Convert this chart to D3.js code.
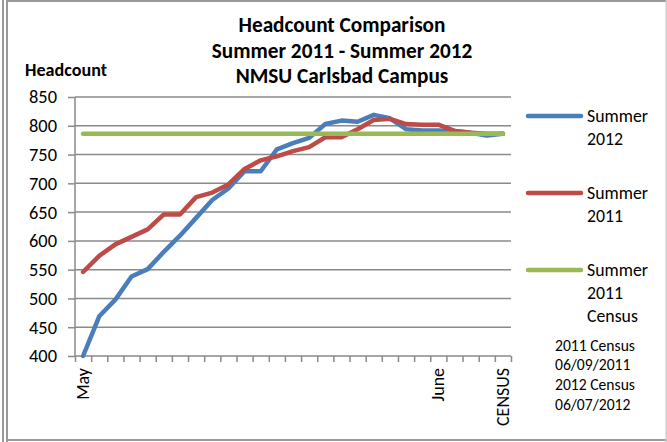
<!DOCTYPE html>
<html>
<head>
<meta charset="utf-8">
<script src="https://cdn.jsdelivr.net/npm/d3@7"></script>
<style>
  html, body { margin: 0; padding: 0; background: #fff; }
  svg { display: block; font-family: Carlito, "Open Sans", Lato, sans-serif; }
</style>
</head>
<body>
<svg id="chart" width="667" height="442"></svg>
<script>
// ---- data ----
const categories = ["May","","","","","","","","","","","","","","","","","","","","","","June","","","","CENSUS"];
const summer2012 = [400,469,498,538,551,581,609,640,671,691,721,721,759,770,779,803,809,807,819,813,794,792,792,791,788,783,786];
const summer2011 = [546,574,594,607,620,646,646,676,684,698,725,740,747,756,763,780,780,794,810,812,803,802,802,791,788,786,786];
const census2011 = [786,786,786,786,786,786,786,786,786,786,786,786,786,786,786,786,786,786,786,786,786,786,786,786,786,786,786];
const yTicks = [400,450,500,550,600,650,700,750,800,850];
const titleLines = ["Headcount Comparison","Summer 2011 - Summer 2012","NMSU Carlsbad Campus"];
const seriesNames = [["Summer","2012"],["Summer","2011"],["Summer","2011","Census"]];
const noteLines = ["2011 Census","06/09/2011","2012 Census","06/07/2012"];

const colors = ["#4A7EBB","#BE4B48","#98B954"];
const svg = d3.select("#chart");

// scale a group's font so a sample string reaches a target width
function fit(sel, sample, target, bold) {
  const t = svg.append("text").attr("font-size", 20).attr("font-weight", bold ? "bold" : null).text(sample);
  const w = t.node().getComputedTextLength();
  t.remove();
  sel.attr("font-size", 20 * target / w);
}

// frame
svg.append("rect").attr("x",2).attr("y",0).attr("width",2).attr("height",442).attr("fill","#999");
svg.append("rect").attr("x",6).attr("y",0).attr("width",2).attr("height",442).attr("fill","#999");
svg.append("rect").attr("x",6).attr("y",0).attr("width",661).attr("height",2).attr("fill","#999");
svg.append("rect").attr("x",6).attr("y",439).attr("width",661).attr("height",2).attr("fill","#999");
svg.append("rect").attr("x",665.5).attr("y",0).attr("width",1.5).attr("height",442).attr("fill","#ccc");

const pL = 75, pR = 511, pT = 97, pB = 356;
const n = categories.length;
const x = d3.scaleBand().domain(d3.range(n)).range([pL, pR]).padding(0);
const xEdge = d3.scaleLinear().domain([0, n]).range([pL, pR]);
const y = d3.scaleLinear().domain([400, 850]).range([pB, pT]);

// gridlines
svg.append("g").selectAll("line").data(yTicks.filter(v => v !== 400)).join("line")
  .attr("x1", pL).attr("x2", pR)
  .attr("y1", d => y(d)).attr("y2", d => y(d))
  .attr("stroke", "#8a8a8a").attr("stroke-width", 1.5);

// y axis
const yAxis = svg.append("g").attr("transform", `translate(${pL},0)`)
  .call(d3.axisLeft(y).tickValues(yTicks).tickSize(7).tickPadding(11).tickFormat(d3.format("d")));
yAxis.attr("font-family", null).attr("font-size", null);
yAxis.select(".domain").attr("stroke", "#8a8a8a").attr("stroke-width", 1.5).attr("d", `M0,${pT}V${pB}`);
yAxis.selectAll(".tick line").attr("stroke", "#8a8a8a").attr("stroke-width", 1.5);
const yLabels = yAxis.selectAll(".tick text").attr("fill", "#000");
fit(yLabels, "850", 28, false);

// x axis
const xAxis = svg.append("g").attr("transform", `translate(0,${pB})`)
  .call(d3.axisBottom(xEdge).tickValues(d3.range(n + 1)).tickSize(6).tickFormat(""));
xAxis.select(".domain").attr("stroke", "#8a8a8a").attr("stroke-width", 1.5).attr("d", `M${pL},0H${pR}`);
xAxis.selectAll(".tick line").attr("stroke", "#8a8a8a").attr("stroke-width", 1.5);

// x labels
const xLabels = svg.append("g").selectAll("text").data(categories.map((c, i) => ({c, i})).filter(d => d.c)).join("text")
  .attr("transform", d => `translate(${x(d.i) + x.bandwidth()/2 + 6},${pB + 12}) rotate(-90)`)
  .attr("text-anchor", "end")
  .text(d => d.c);
fit(xLabels, "CENSUS", 58, false);

// lines
const line = d3.line().x((d, i) => x(i) + x.bandwidth()/2).y(d => y(d));
[summer2012, summer2011, census2011].forEach((s, k) => {
  svg.append("path").datum(s).attr("d", line).attr("fill", "none")
    .attr("stroke", colors[k]).attr("stroke-width", 4.5)
    .attr("stroke-linejoin", "round").attr("stroke-linecap", "round");
});

// title
const titles = svg.append("g").selectAll("text").data(titleLines).join("text")
  .attr("x", 342).attr("y", (d, i) => 32.3 + i * 25.2)
  .attr("text-anchor", "middle").attr("font-weight", "bold")
  .text(d => d);
fit(titles, "Headcount Comparison", 207, true);

// y axis title
const yTitle = svg.append("text").attr("x", 25).attr("y", 76).attr("font-weight", "bold").text("Headcount");
fit(yTitle, "Headcount", 82, true);

// legend
const legY = [116, 193, 270];
const legTexts = [];
seriesNames.forEach((lines, k) => {
  const g = svg.append("g");
  g.append("line").attr("x1", 528).attr("x2", 581).attr("y1", legY[k]).attr("y2", legY[k])
    .attr("stroke", colors[k]).attr("stroke-width", 4.5).attr("stroke-linecap", "round");
  lines.forEach((t, j) => {
    g.append("text").attr("class", "leg").attr("x", 587).attr("y", legY[k] + 6 + j * 23).text(t);
  });
});
fit(svg.selectAll("text.leg"), "Summer", 61, false);

// notes
const notes = svg.append("g").selectAll("text").data(noteLines).join("text")
  .attr("x", 555).attr("y", (d, i) => 350.7 + i * 19.7)
  .text(d => d);
fit(notes, "2011 Census", 80, false);
</script>
</body>
</html>
